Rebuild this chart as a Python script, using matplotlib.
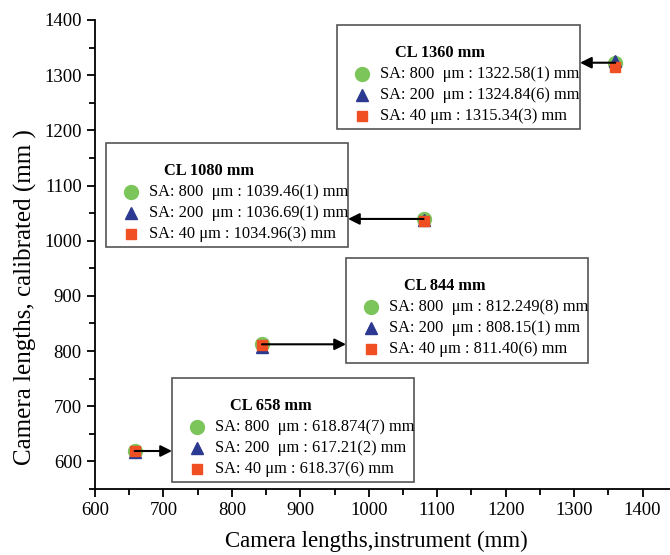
import numpy as np
import matplotlib
matplotlib.use("Agg")
import matplotlib.pyplot as plt
from matplotlib.patches import Rectangle

plt.rcParams["font.family"] = ["Liberation Serif", "DejaVu Serif"]

# data: nominal camera length vs calibrated value for three SA apertures
cl_nominal = [658, 844, 1080, 1360]
sa800 = [618.874, 812.249, 1039.46, 1322.58]
sa200 = [617.21, 808.15, 1036.69, 1324.84]
sa40 = [618.37, 811.40, 1034.96, 1315.34]
sa800_txt = ["618.874(7)", "812.249(8)", "1039.46(1)", "1322.58(1)"]
sa200_txt = ["617.21(2)", "808.15(1)", "1036.69(1)", "1324.84(6)"]
sa40_txt = ["618.37(6)", "811.40(6)", "1034.96(3)", "1315.34(3)"]

green = "#7cc55a"
blue = "#2b3990"
red = "#f04e23"

W, H = 670, 555
fig = plt.figure(figsize=(W / 100, H / 100), dpi=100)
ax = fig.add_axes([95 / W, 1 - 489 / H, 575 / W, (489 - 20) / H])

ax.plot(cl_nominal, sa800, "o", color=green, ms=10, zorder=3)
ax.plot(cl_nominal, sa200, "^", color=blue, ms=9, zorder=4)
ax.plot(cl_nominal, sa40, "s", color=red, ms=7, zorder=5)

ax.set_xlim(600, 1440)
ax.set_ylim(550, 1400)
ax.set_xticks(np.arange(600, 1401, 100))
ax.set_xticks(np.arange(650, 1401, 100), minor=True)
ax.set_yticks(np.arange(600, 1401, 100))
ax.set_yticks(np.arange(550, 1401, 100), minor=True)
ax.spines["top"].set_visible(False)
ax.spines["right"].set_visible(False)
for s in ["left", "bottom"]:
    ax.spines[s].set_linewidth(1.3)
ax.tick_params(which="major", direction="out", length=6, width=1.3, labelsize=13.5)
ax.tick_params(which="minor", direction="out", length=4, width=1.3)
ax.set_xlabel("Camera lengths,instrument (mm)", fontsize=16.5)
ax.set_ylabel("Camera lengths, calibrated (mm )", fontsize=18)
ax.xaxis.set_label_coords(0.489, -0.09)
ax.yaxis.set_label_coords(-0.1, 0.41)


def fx(px):
    return px / W


def fy(py):
    return 1 - py / H


# boxes in pixel positions: left, top, right, bottom ; arrow side
boxes = [(172, 378, 414, 482, "left"),
         (346, 258, 588, 363, "left"),
         (106, 143, 348, 247, "right"),
         (337, 25, 580, 129, "right")]

for i, (l, t, r, b, side) in enumerate(boxes):
    fig.patches.append(Rectangle((fx(l), fy(b)), fx(r - l), (b - t) / H,
                                 transform=fig.transFigure, fill=False,
                                 edgecolor="#555555", lw=1.2))
    fig.text(fx(l + 58), fy(t + 28), "CL %d mm" % cl_nominal[i], fontsize=11.8,
             fontweight="bold", va="center")
    rows = [("o", green, 10, "SA: 800  \u03bcm : %s mm" % sa800_txt[i]),
            ("^", blue, 9, "SA: 200  \u03bcm : %s mm" % sa200_txt[i]),
            ("s", red, 7, "SA: 40 \u03bcm : %s mm" % sa40_txt[i])]
    for j, (m, c, ms, txt) in enumerate(rows):
        yy = t + 49 + j * 21
        fig.lines.append(plt.Line2D([fx(l + 25)], [fy(yy)], marker=m, color=c,
                                    ms=ms, ls="none", transform=fig.transFigure))
        fig.text(fx(l + 43), fy(yy), txt, fontsize=11.8, va="center")
    edge = l if side == "left" else r
    y_arrow = sa800[i]
    ax.annotate("", xy=(fx(edge), y_arrow), xycoords=("figure fraction", "data"),
                xytext=(cl_nominal[i], y_arrow), textcoords="data",
                arrowprops=dict(arrowstyle="-|>", color="black", lw=1.5,
                                mutation_scale=17, shrinkA=0, shrinkB=0),
                zorder=6)

fig.savefig("out.png", dpi=100)
